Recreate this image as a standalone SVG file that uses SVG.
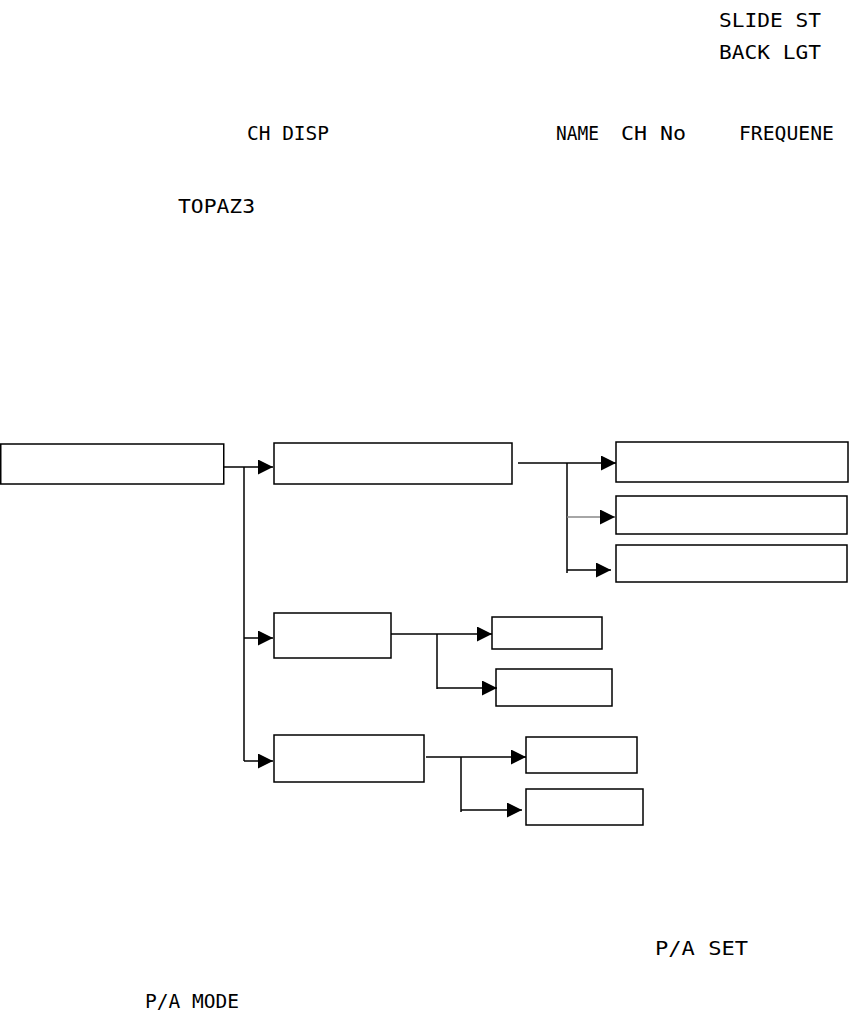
<svg xmlns="http://www.w3.org/2000/svg" width="849" height="1023" viewBox="0 0 849 1023">
<style>
.box{fill:#fff;stroke:#000;stroke-width:1.5}
.ln{fill:none;stroke:#000;stroke-width:1.5}
.lcd{font-family:"DejaVu Sans Mono","Liberation Mono",monospace;font-size:19px;fill:#000}
</style>
<defs>
<marker id="ah" markerUnits="userSpaceOnUse" viewBox="0 0 15 15" refX="15" refY="7.5" markerWidth="15" markerHeight="15" orient="auto">
<path d="M0,0 L15,7.5 L0,15 Z" fill="#000"/>
</marker>
</defs>
<rect width="849" height="1023" fill="#fff"/>
<g id="labels">
<text class="lcd" x="719" y="27" textLength="102" lengthAdjust="spacingAndGlyphs">SLIDE ST</text>
<text class="lcd" x="719" y="59" textLength="102" lengthAdjust="spacingAndGlyphs">BACK LGT</text>
<text class="lcd" x="247" y="140" textLength="82" lengthAdjust="spacingAndGlyphs">CH DISP</text>
<text class="lcd" x="556" y="140" textLength="43" lengthAdjust="spacingAndGlyphs">NAME</text>
<text class="lcd" x="621" y="140" textLength="65" lengthAdjust="spacingAndGlyphs">CH No</text>
<text class="lcd" x="739" y="140" textLength="95" lengthAdjust="spacingAndGlyphs">FREQUENE</text>
<text class="lcd" x="178" y="213" textLength="77" lengthAdjust="spacingAndGlyphs">TOPAZ3</text>
<text class="lcd" x="655" y="955" textLength="93" lengthAdjust="spacingAndGlyphs">P/A SET</text>
<text class="lcd" x="145" y="1008" textLength="94" lengthAdjust="spacingAndGlyphs">P/A MODE</text>
</g>
<g id="n1"><rect class="box" x="0.75" y="444" width="223" height="40"/></g>
<g id="n2"><rect class="box" x="274" y="443" width="238" height="41"/></g>
<g id="n3"><rect class="box" x="616" y="442" width="232" height="40"/></g>
<g id="n4"><rect class="box" x="616" y="496" width="231" height="38"/></g>
<g id="n5"><rect class="box" x="616" y="545" width="231" height="37"/></g>
<g id="n6"><rect class="box" x="274" y="613" width="117" height="45"/></g>
<g id="n7"><rect class="box" x="492" y="617" width="110" height="32"/></g>
<g id="n8"><rect class="box" x="496" y="669" width="116" height="37"/></g>
<g id="n9"><rect class="box" x="274" y="735" width="150" height="47"/></g>
<g id="n10"><rect class="box" x="526" y="737" width="111" height="36"/></g>
<g id="n11"><rect class="box" x="526" y="789" width="117" height="36"/></g>
<g id="connectors">
<path class="ln" d="M224,467 H273" marker-end="url(#ah)"/>
<path class="ln" d="M244,467 V761"/>
<path class="ln" d="M244,638 H273" marker-end="url(#ah)"/>
<path class="ln" d="M244,761 H273" marker-end="url(#ah)"/>
<path class="ln" d="M518,463 H616" marker-end="url(#ah)"/>
<path class="ln" d="M567,463 V573"/>
<path class="ln" d="M567,517 H615" style="stroke:#888" marker-end="url(#ah)"/>
<path class="ln" d="M567,570 H611" marker-end="url(#ah)"/>
<path class="ln" d="M391,634 H492" marker-end="url(#ah)"/>
<path class="ln" d="M437,634 V689"/>
<path class="ln" d="M437,688 H497" marker-end="url(#ah)"/>
<path class="ln" d="M426,757 H526" marker-end="url(#ah)"/>
<path class="ln" d="M461,757 V812"/>
<path class="ln" d="M461,810 H522" marker-end="url(#ah)"/>
</g>
</svg>
